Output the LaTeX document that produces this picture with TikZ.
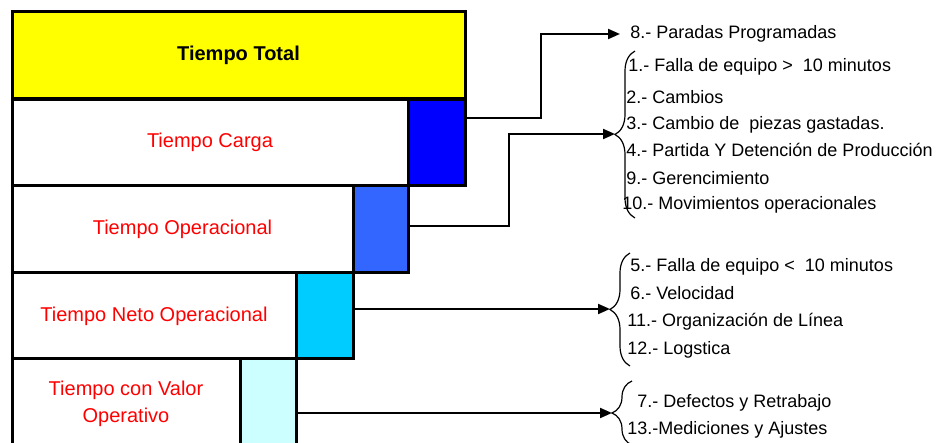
\documentclass[tikz,border=0pt]{standalone}
\usepackage{fontspec}
\setmainfont{Liberation Sans}
\usepackage{tikz}
\usetikzlibrary{arrows.meta}
\usetikzlibrary{decorations.pathreplacing}

\definecolor{amarillo}{HTML}{FFFF00}
\definecolor{azul}{HTML}{0000FF}
\definecolor{azulmedio}{HTML}{3366FF}
\definecolor{celeste}{HTML}{00CCFF}
\definecolor{celesteclaro}{HTML}{CCFFFF}

\begin{document}
\begin{tikzpicture}[x = 0.5pt, y = -0.5pt,
  tiempo/.style = {draw, line width = 1.5pt, inner sep = 0pt, outer sep = 0pt, anchor = north west, text = red, align = center, font = \fontsize{10}{13.5}\selectfont},
  perdida/.style = {draw, line width = 1.5pt, inner sep = 0pt, outer sep = 0pt, anchor = north west},
  causa/.style = {anchor = west, inner sep = 0pt, font = \fontsize{9}{11}\selectfont},
  flecha/.style = {line width = 1pt, -{Triangle[length = 6pt, width = 5pt]}},
  llave/.style = {decorate, decoration = {brace, amplitude = 10pt}, line width = 0.6pt}]
\useasboundingbox (0,0) rectangle (938,443);
\clip (0,0) rectangle (938,443);
% bloques de tiempo
\node[tiempo, fill = amarillo, text = black, font = \bfseries\fontsize{10}{12}\selectfont, minimum width = 226.5pt, minimum height = 43.5pt] (total) at (12,12) {Tiempo Total};
\node[tiempo, minimum width = 198pt, minimum height = 43.25pt] (carga) at (12,99.5) {Tiempo Carga};
\node[perdida, fill = azul, minimum width = 28.5pt, minimum height = 43.25pt] (cargaP) at (408,99.5) {};
\node[tiempo, minimum width = 170.5pt, minimum height = 43.5pt] (oper) at (12,186) {Tiempo Operacional};
\node[perdida, fill = azulmedio, minimum width = 27.5pt, minimum height = 43.5pt] (operP) at (353,186) {};
\node[tiempo, minimum width = 142pt, minimum height = 43pt] (neto) at (12,273) {Tiempo Neto Operacional};
\node[perdida, fill = celeste, minimum width = 28.5pt, minimum height = 43pt] (netoP) at (296,273) {};
\node[tiempo, minimum width = 114pt, minimum height = 45pt] (valor) at (12,359) {Tiempo con Valor\\Operativo};
\node[perdida, fill = celesteclaro, minimum width = 28pt, minimum height = 45pt] (valorP) at (240,359) {};

% causas
\node[causa] (p8) at (630,34) {8.- Paradas Programadas};
\node[causa] (p1) at (628,67) {1.- Falla de equipo >\ \ 10 minutos};
\node[causa] (p2) at (626,97) {2.- Cambios};
\node[causa] (p3) at (626,125) {3.- Cambio de\ \ piezas gastadas.};
\node[causa] (p4) at (626,150) {4.- Partida Y Detención de Producción};
\node[causa] (p9) at (626,178) {9.- Gerencimiento};
\node[causa] (p10) at (622,205) {10.- Movimientos operacionales};
\node[causa] (p5) at (630,267) {5.- Falla de equipo <\ \ 10 minutos};
\node[causa] (p6) at (630,293) {6.- Velocidad};
\node[causa] (p11) at (627,322) {11.- Organización de Línea};
\node[causa] (p12) at (627,350) {12.- Logstica};
\node[causa] (p7) at (637,403) {7.- Defectos y Retrabajo};
\node[causa] (p13) at (627,430) {13.-Mediciones y Ajustes};

% llaves
\draw[llave] (635,218) -- (635,51);
\draw[llave] (630,366) -- (630,253);
\draw[llave] (632,445) -- (632,381);

% flechas
\coordinate (q1) at (541,118);
\coordinate (q2) at (509,226);
\coordinate (g1) at (615,134);
\coordinate (g2) at (610,309);
\coordinate (g3) at (612,413);
\draw[flecha] (cargaP.east |- q1) -- (q1) |- ([xshift=-5pt]p8.west);
\draw[flecha] (operP.east |- q2) -- (q2) |- (g1);
\draw[flecha] (netoP.east |- g2) -- (g2);
\draw[flecha] (valorP.east |- g3) -- (g3);
\end{tikzpicture}
\end{document}
